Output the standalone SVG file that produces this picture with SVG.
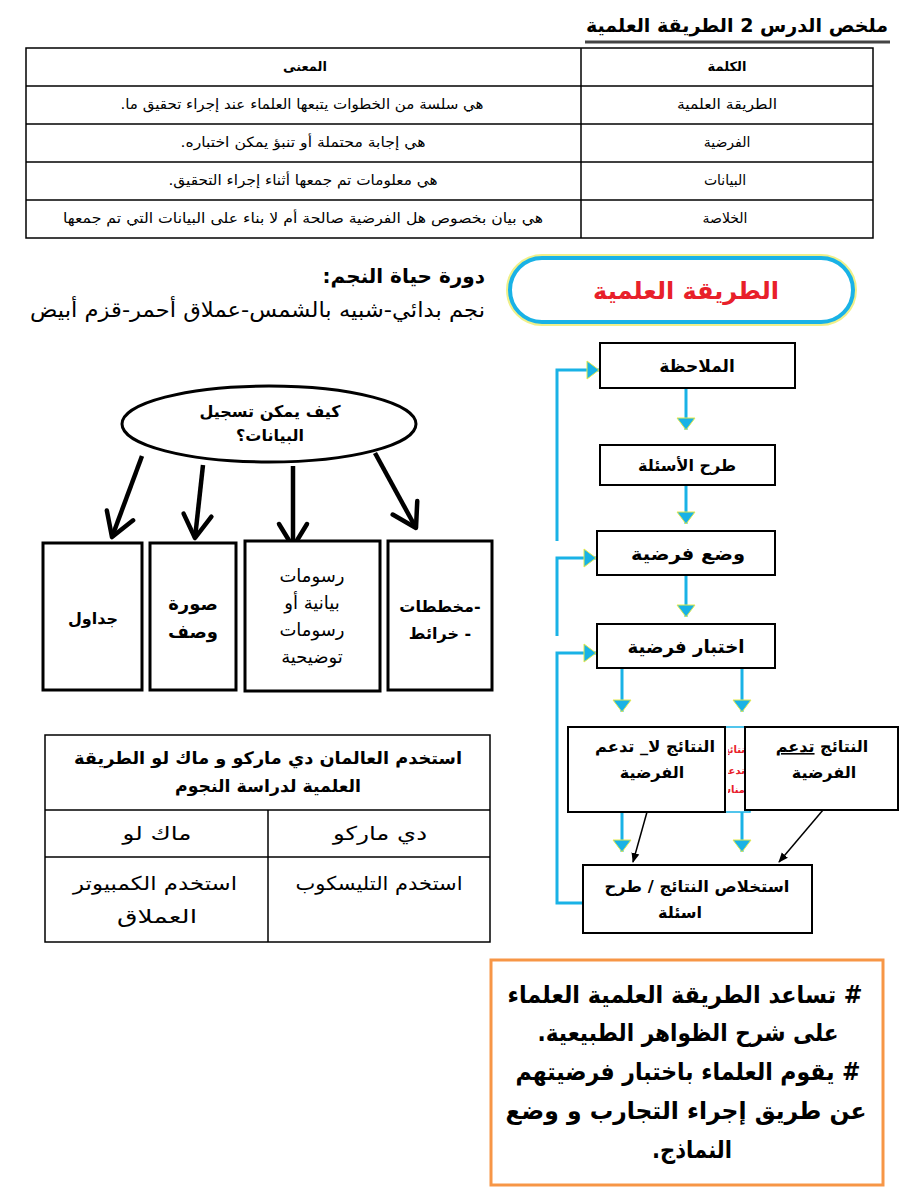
<svg xmlns="http://www.w3.org/2000/svg" width="900" height="1200" viewBox="0 0 900 1200">
<style>
text{font-family:"DejaVu Sans","Liberation Sans",sans-serif;direction:rtl;fill:#000}
.t{font-size:14px;text-anchor:middle}
.b{font-weight:bold}
.m{text-anchor:middle}
.box{fill:#fff;stroke:#000;stroke-width:2}
.tbox{fill:#fff;stroke:#000;stroke-width:3}
.grid{fill:none;stroke:#000;stroke-width:1.5}
.cy{stroke:#19b2e6;stroke-width:3;fill:none}
.blk{stroke:#000;stroke-width:4.5;fill:none}
</style>
<defs>
<marker id="ah" viewBox="0 0 14 20" refX="13" refY="10" markerWidth="14" markerHeight="20" markerUnits="userSpaceOnUse" orient="auto">
<path d="M1,1 L13,10 L1,19 Z" fill="#19b2e6" stroke="#e4e84a" stroke-width="1"/>
</marker>
<marker id="ov" viewBox="0 0 36 36" refX="31" refY="18" markerWidth="36" markerHeight="36" markerUnits="userSpaceOnUse" orient="auto">
<path d="M8,4 L31,18 L8,32" fill="none" stroke="#000" stroke-width="4.5" stroke-linecap="round" stroke-linejoin="round"/>
</marker>
<marker id="thin" viewBox="0 0 10 10" refX="9" refY="5" markerWidth="10" markerHeight="10" markerUnits="userSpaceOnUse" orient="auto">
<path d="M0,1 L10,5 L0,9 Z" fill="#000"/>
</marker>
<clipPath id="midclip"><rect x="728" y="728" width="16" height="84"/></clipPath>
</defs>

<g id="title">
<text x="888" y="32" style="text-anchor:start;font-size:19px;font-weight:bold" textLength="302" lengthAdjust="spacingAndGlyphs">ملخص الدرس 2 الطريقة العلمية</text>
<line x1="585" y1="42" x2="890" y2="42" stroke="#444" stroke-width="3"/>
</g>

<g id="definitions-table">
<rect x="26" y="48" width="847" height="190" class="grid"/>
<line x1="581" y1="48" x2="581" y2="238" class="grid"/>
<line x1="26" y1="86" x2="873" y2="86" class="grid"/>
<line x1="26" y1="124" x2="873" y2="124" class="grid"/>
<line x1="26" y1="162" x2="873" y2="162" class="grid"/>
<line x1="26" y1="200" x2="873" y2="200" class="grid"/>
<text x="305" y="71" class="t b" style="font-size:13px">المعنى</text>
<text x="727" y="71" class="t b" style="font-size:13px">الكلمة</text>
<text x="727" y="109" class="t" textLength="100" lengthAdjust="spacingAndGlyphs">الطريقة العلمية</text>
<text x="302" y="109" class="t" textLength="363" lengthAdjust="spacingAndGlyphs">هي سلسة من الخطوات يتبعها العلماء عند إجراء تحقيق ما.</text>
<text x="727" y="147" class="t">الفرضية</text>
<text x="303" y="147" class="t" textLength="245" lengthAdjust="spacingAndGlyphs">هي  إجابة محتملة أو تنبؤ يمكن اختباره.</text>
<text x="725" y="185" class="t">البيانات</text>
<text x="303" y="185" class="t" textLength="269" lengthAdjust="spacingAndGlyphs">هي معلومات تم جمعها أثناء إجراء التحقيق.</text>
<text x="725" y="223" class="t">الخلاصة</text>
<text x="303" y="223" class="t" textLength="480" lengthAdjust="spacingAndGlyphs">هي بيان بخصوص هل الفرضية صالحة أم لا بناء على البيانات التي تم جمعها</text>
</g>

<g id="star-life">
<text x="485" y="283" style="text-anchor:start;font-size:20px;font-weight:bold">دورة حياة النجم:</text>
<text x="485" y="317" style="text-anchor:start;font-size:21px" textLength="455" lengthAdjust="spacingAndGlyphs">نجم بدائي-شبيه بالشمس-عملاق أحمر-قزم أبيض</text>
</g>

<g id="method-title">
<rect x="510" y="258" width="343" height="64" rx="32" fill="#fff" stroke="#f0f08a" stroke-width="8"/>
<rect x="510" y="258" width="343" height="64" rx="32" fill="#fff" stroke="#19b2e6" stroke-width="4"/>
<text x="686" y="299" class="m b" style="font-size:24px;fill:#e8202a">الطريقة العلمية</text>
</g>

<g id="connectors">
<line x1="686" y1="388" x2="686" y2="430" class="cy" marker-end="url(#ah)"/>
<line x1="686" y1="485" x2="686" y2="524" class="cy" marker-end="url(#ah)"/>
<line x1="686" y1="575" x2="686" y2="617" class="cy" marker-end="url(#ah)"/>
<line x1="622" y1="668" x2="622" y2="712" class="cy" marker-end="url(#ah)"/>
<line x1="742" y1="668" x2="742" y2="712" class="cy" marker-end="url(#ah)"/>
<line x1="622" y1="812" x2="622" y2="852" class="cy" marker-end="url(#ah)"/>
<line x1="742" y1="812" x2="742" y2="852" class="cy" marker-end="url(#ah)"/>
<polyline points="557,541 557,370 599,370" class="cy" marker-end="url(#ah)"/>
<polyline points="557,636 557,558 596,558" class="cy" marker-end="url(#ah)"/>
<polyline points="583,903 557,903 557,653 596,653" class="cy" marker-end="url(#ah)"/>
<line x1="647" y1="812" x2="633" y2="862" stroke="#000" stroke-width="1.5" marker-end="url(#thin)"/>
<line x1="823" y1="810" x2="779" y2="862" stroke="#000" stroke-width="1.5" marker-end="url(#thin)"/>
<line x1="142" y1="456" x2="112" y2="537" class="blk" marker-end="url(#ov)"/>
<line x1="203" y1="465" x2="195" y2="538" class="blk" marker-end="url(#ov)"/>
<line x1="293" y1="466" x2="293" y2="547" class="blk" marker-end="url(#ov)"/>
<line x1="375" y1="453" x2="416" y2="528" class="blk" marker-end="url(#ov)"/>
</g>

<g id="observation">
<rect x="600" y="343" width="195" height="45" class="box"/>
<text x="697" y="372" class="m b" style="font-size:17px">الملاحظة</text>
</g>
<g id="questions">
<rect x="600" y="445" width="175" height="40" class="box"/>
<text x="687" y="471" class="m b" style="font-size:16px">طرح الأسئلة</text>
</g>
<g id="hypothesis">
<rect x="597" y="531" width="178" height="44" class="box"/>
<text x="688" y="560" class="m b" style="font-size:18px" textLength="114" lengthAdjust="spacingAndGlyphs">وضع فرضية</text>
</g>
<g id="test">
<rect x="597" y="624" width="178" height="44" class="box"/>
<text x="686" y="653" class="m b" style="font-size:18px" textLength="117" lengthAdjust="spacingAndGlyphs">اختبار فرضية</text>
</g>
<g id="hidden-middle">
<rect x="720" y="727" width="30" height="85" fill="#fff" stroke="#19b2e6" stroke-width="1.5"/>
<g clip-path="url(#midclip)">
<text x="745" y="753" style="text-anchor:start;font-size:10px;font-weight:bold;fill:#e8202a">نتائج</text>
<text x="745" y="774" style="text-anchor:start;font-size:10px;font-weight:bold;fill:#e8202a">تدعم</text>
<text x="745" y="793" style="text-anchor:start;font-size:10px;font-weight:bold;fill:#e8202a">مناسبة</text>
</g>
</g>
<g id="not-support">
<rect x="568" y="727" width="157" height="85" class="box"/>
<text x="655" y="752" class="m b" style="font-size:16px" textLength="120" lengthAdjust="spacingAndGlyphs">النتائج لا_ تدعم</text>
<text x="652" y="778" class="m b" style="font-size:16px">الفرضية</text>
</g>
<g id="support">
<rect x="745" y="727" width="153" height="83" class="box"/>
<text x="822" y="752" class="m b" style="font-size:16px">النتائج <tspan text-decoration="underline">تدعم</tspan></text>
<text x="824" y="778" class="m b" style="font-size:16px">الفرضية</text>
</g>
<g id="conclusion">
<rect x="583" y="865" width="229" height="68" class="box"/>
<text x="697" y="892" class="m b" style="font-size:16px" textLength="185" lengthAdjust="spacingAndGlyphs">استخلاص النتائج / طرح</text>
<text x="680" y="918" class="m b" style="font-size:16px">اسئلة</text>
</g>

<g id="question-ellipse">
<ellipse cx="269" cy="424" rx="147" ry="38" fill="#fff" stroke="#000" stroke-width="3"/>
<text x="270" y="417" class="m b" style="font-size:16px">كيف يمكن تسجيل</text>
<text x="270" y="441" class="m b" style="font-size:16px">البيانات؟</text>
</g>
<g id="tables">
<rect x="43" y="543" width="99" height="147" class="tbox"/>
<text x="93" y="624" class="m b" style="font-size:16px">جداول</text>
</g>
<g id="picture">
<rect x="150" y="543" width="86" height="147" class="tbox"/>
<text x="193" y="610" class="m b" style="font-size:18px">صورة</text>
<text x="193" y="638" class="m b" style="font-size:18px">وصف</text>
</g>
<g id="graphs">
<rect x="245" y="541" width="135" height="150" class="tbox"/>
<text x="312" y="582" class="m" style="font-size:18px">رسومات</text>
<text x="312" y="609" class="m" style="font-size:18px">بيانية أو</text>
<text x="312" y="636" class="m" style="font-size:18px">رسومات</text>
<text x="312" y="663" class="m" style="font-size:18px">توضيحية</text>
</g>
<g id="maps">
<rect x="388" y="541" width="104" height="149" class="tbox"/>
<text x="440" y="612" class="m b" style="font-size:16px">-مخططات</text>
<text x="440" y="639" class="m b" style="font-size:16px">- خرائط</text>
</g>

<g id="scientists-table">
<rect x="45" y="735" width="445" height="207" class="grid" stroke-width="2"/>
<line x1="45" y1="810" x2="490" y2="810" class="grid"/>
<line x1="45" y1="857" x2="490" y2="857" class="grid"/>
<line x1="268" y1="810" x2="268" y2="942" class="grid"/>
<text x="268" y="764" class="m b" style="font-size:17px" textLength="388" lengthAdjust="spacingAndGlyphs">استخدم العالمان دي ماركو و ماك لو الطريقة</text>
<text x="268" y="792" class="m b" style="font-size:17px" textLength="186" lengthAdjust="spacingAndGlyphs">العلمية لدراسة النجوم</text>
<text x="157" y="840" class="m" style="font-size:19px" textLength="69" lengthAdjust="spacingAndGlyphs">ماك لو</text>
<text x="380" y="840" class="m" style="font-size:19px" textLength="94" lengthAdjust="spacingAndGlyphs">دي ماركو</text>
<text x="155" y="890" class="m" style="font-size:19px" textLength="164" lengthAdjust="spacingAndGlyphs">استخدم الكمبيوتر</text>
<text x="157" y="923" class="m" style="font-size:19px" textLength="80" lengthAdjust="spacingAndGlyphs">العملاق</text>
<text x="379" y="890" class="m" style="font-size:19px" textLength="167" lengthAdjust="spacingAndGlyphs">استخدم التليسكوب</text>
</g>

<g id="summary">
<rect x="491" y="960" width="392" height="225" fill="#fff" stroke="#f79646" stroke-width="3"/>
<text x="685" y="1003" class="m b" style="font-size:24px" textLength="355" lengthAdjust="spacingAndGlyphs"># تساعد الطريقة العلمية العلماء</text>
<text x="688" y="1041" class="m b" style="font-size:24px" textLength="301" lengthAdjust="spacingAndGlyphs">على شرح الظواهر الطبيعية.</text>
<text x="688" y="1080" class="m b" style="font-size:24px" textLength="345" lengthAdjust="spacingAndGlyphs"># يقوم العلماء باختبار فرضيتهم</text>
<text x="686" y="1119" class="m b" style="font-size:24px" textLength="361" lengthAdjust="spacingAndGlyphs">عن طريق إجراء التجارب و وضع</text>
<text x="692" y="1158" class="m b" style="font-size:24px" textLength="80" lengthAdjust="spacingAndGlyphs">النماذج.</text>
</g>
</svg>
